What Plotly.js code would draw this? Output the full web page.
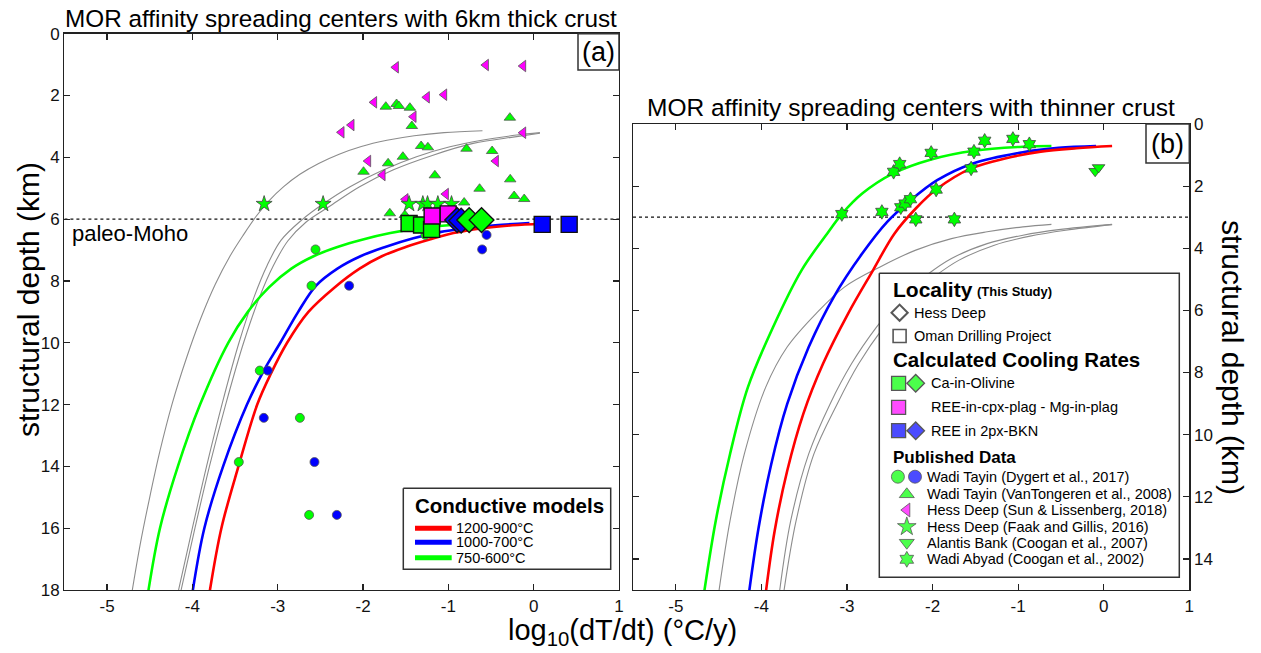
<!DOCTYPE html>
<html><head><meta charset="utf-8">
<script src="https://cdn.plot.ly/plotly-3.0.1.min.js"></script>
<style>html,body{margin:0;padding:0;background:#fff;}#chart{width:1261px;height:653px;}</style>
</head><body><div id="chart"></div>
<script>
// ================= DATA =================
const xTickVals = [-5, -4, -3, -2, -1, 0, 1];
const xTickText = ['-5', '-4', '-3', '-2', '-1', '0', '1'];
const yTickValsA = [0, 2, 4, 6, 8, 10, 12, 14, 16, 18];
const yTickValsB = [0, 2, 4, 6, 8, 10, 12, 14];
const xRange = [-5.5, 1];
const depthMaxA = 18, depthMaxB = 15;
const mohoDepthA = 6, mohoDepthB = 3;

// Panel (a) conductive models (6 km crust)
const redA_x   = [-3.80, -3.66, -3.46, -3.24, -3.08, -2.89, -2.64, -2.33, -2.04, -1.78, -1.50, -1.21, -0.94, -0.62, -0.25, 0.10];
const redA_d   = [18.1, 16.0, 14.0, 12.0, 11.0, 10.0, 9.0, 8.2, 7.6, 7.2, 6.9, 6.65, 6.45, 6.3, 6.2, 6.15];
const blueA_x  = [-4.00, -3.86, -3.64, -3.36, -3.163, -2.97, -2.76, -2.55, -2.30, -2.03, -1.74, -1.41, -1.10, -0.80, -0.45, -0.05];
const blueA_d  = [18.1, 16.0, 14.0, 12.0, 10.9, 10.0, 9.0, 8.15, 7.6, 7.2, 6.9, 6.62, 6.42, 6.3, 6.2, 6.13];
const greenA_x = [-4.52, -4.38, -4.17, -3.91, -3.58, -3.35, -3.10, -2.84, -2.58, -2.30, -1.99, -1.68, -1.35, -1.00, -0.60];
const greenA_d = [18.1, 16.0, 14.0, 12.0, 10.0, 9.0, 8.2, 7.6, 7.2, 6.9, 6.65, 6.45, 6.3, 6.2, 6.12];
// Panel (a) grey reference curves (thinner crust models)
const grey1A_x = [-4.71, -4.61, -4.50, -4.38, -4.24, -4.07, -3.90, -3.73, -3.56, -3.40, -3.25, -3.10, -2.93, -2.74, -2.52, -2.28, -2.02, -1.72, -1.40, -1.05, -0.60];
const grey1A_d = [18.1, 16.5, 15.0, 13.5, 12.0, 10.5, 9.2, 8.1, 7.2, 6.5, 5.9, 5.4, 4.95, 4.55, 4.2, 3.9, 3.65, 3.45, 3.3, 3.2, 3.14];
const grey2A_x = [-4.17, -4.00, -3.834, -3.654, -3.454, -3.274, -3.124, -2.96, -2.72, -2.47, -2.152, -1.764, -1.373, -0.982, -0.592, -0.2, 0.073];
const grey2A_d = [18.1, 16.0, 14.0, 12.0, 10.0, 8.5, 7.5, 6.68, 6.03, 5.51, 4.95, 4.41, 3.98, 3.66, 3.44, 3.28, 3.20];
const grey3A_x = [-4.14, -3.97, -3.80, -3.61, -3.40, -3.21, -3.05, -2.88, -2.67, -2.40, -2.04, -1.65, -1.18, -0.71, -0.20, 0.073];
const grey3A_d = [18.1, 16.0, 14.0, 12.0, 10.0, 8.5, 7.5, 6.7, 6.1, 5.6, 4.95, 4.41, 3.93, 3.55, 3.33, 3.22];

// Panel (b) conductive models (thinner crust)
const redB_x   = [-3.949, -3.845, -3.698, -3.51, -3.28, -2.988, -2.696, -2.446, -2.196, -1.958, -1.549, -1.153, -0.736, -0.319, 0.098];
const redB_d   = [15.1, 13.1, 11.16, 9.33, 7.72, 6.11, 4.71, 3.53, 2.72, 2.11, 1.43, 1.11, 0.89, 0.78, 0.71];
const blueB_x  = [-4.145, -4.032, -3.885, -3.698, -3.447, -3.155, -2.822, -2.53, -2.279, -1.946, -1.528, -0.944, -0.527, -0.089];
const blueB_d  = [15.1, 12.99, 10.95, 9.01, 7.18, 5.57, 4.17, 3.15, 2.51, 1.81, 1.27, 0.91, 0.77, 0.71];
const greenB_x = [-4.67, -4.533, -4.366, -4.157, -3.864, -3.531, -3.25, -3.06, -2.822, -2.459, -2.016, -1.516, -0.944, -0.611];
const greenB_d = [15.1, 12.77, 10.62, 8.47, 6.54, 4.71, 3.6, 2.90, 2.24, 1.59, 1.14, 0.86, 0.73, 0.71];
// Panel (b) grey reference curves (6 km crust models)
const grey1B_x = [-4.499, -4.366, -4.199, -3.949, -3.699, -3.364, -3.03, -2.613, -2.196, -1.779, -1.362, -0.944, -0.611];
const grey1B_d = [15.1, 12.77, 10.62, 8.47, 7.18, 6.11, 5.25, 4.60, 4.06, 3.69, 3.47, 3.31, 3.23];
const grey2B_x = [-3.79, -3.657, -3.447, -3.197, -2.947, -2.655, -2.363, -2.071, -1.779, -1.362, -0.944, -0.527, 0.098];
const grey2B_d = [15.1, 12.77, 10.62, 9.01, 7.72, 6.54, 5.57, 4.87, 4.33, 3.85, 3.58, 3.40, 3.23];
const grey3B_x = [-3.74, -3.594, -3.386, -3.114, -2.863, -2.571, -2.279, -1.987, -1.695, -1.278, -0.861, -0.444, 0.098];
const grey3B_d = [15.1, 12.77, 10.62, 9.01, 7.72, 6.54, 5.57, 4.93, 4.39, 3.90, 3.61, 3.42, 3.24];

// Published data, panel (a)
const dygertGreen_x = [-1.27, -2.557, -2.604, -3.21, -2.74, -3.456, -2.632];
const dygertGreen_d = [6.51, 6.98, 8.155, 10.9, 12.43, 13.86, 15.57];
const dygertBlue_x  = [-0.552, -0.604, -2.163, -3.116, -3.163, -2.569, -2.307];
const dygertBlue_d  = [6.51, 6.98, 8.155, 10.9, 12.43, 13.86, 15.57];
const vanTongeren_x = [-1.733, -1.607, -1.580, -1.451, -1.428, -0.279, -1.319, -1.240, -0.787, -0.487, -1.533, -1.706, -1.994, -1.158, -0.275, -0.634, -0.229, -0.111, -0.815, -1.686, -1.510];
const vanTongeren_d = [2.362, 2.275, 2.340, 2.395, 2.987, 2.718, 3.634, 3.676, 3.722, 3.796, 3.981, 4.194, 4.466, 4.583, 4.712, 5.016, 5.252, 5.350, 5.463, 5.812, 5.867];
const sunLissenberg_x = [-1.615, -0.560, -0.123, -1.870, -1.252, -1.049, -1.408, -2.135, -2.252, -0.123, -1.940, -1.771, -0.443, -1.029, -1.502];
const sunLissenberg_d = [1.087, 1.013, 1.045, 2.220, 2.058, 1.974, 2.686, 2.955, 3.191, 3.204, 4.120, 4.573, 4.120, 5.188, 5.359];
const faakGillis_x = [-3.159, -2.468, -1.46, -1.299, -1.244, -1.123, -0.963];
const faakGillis_d = [5.51, 5.51, 5.51, 5.51, 5.51, 5.51, 5.51];

// This study, panel (a)
const omanCaOl_x  = [-1.46, -1.314, -1.197];
const omanCaOl_d  = [6.14, 6.19, 6.33];
const omanREEmg_x = [-1.19, -1.002];
const omanREEmg_d = [5.90, 5.83];
const omanREE2px_x = [0.10, 0.416];
const omanREE2px_d = [6.17, 6.17];
const hessREE2px_x = [-0.897, -0.85];
const hessREE2px_d = [6.03, 6.05];
const hessCaOl_x  = [-0.756, -0.611];
const hessCaOl_d  = [6.03, 6.03];

// Published data, panel (b)
const wadiAbyad_x = [-3.06, -2.592, -2.455, -2.384, -2.371, -2.321, -2.258, -2.196, -2.016, -1.958, -1.745, -1.549, -1.516, -1.391, -1.061, -0.869];
const wadiAbyad_d = [2.90, 2.83, 1.54, 1.29, 2.68, 2.56, 2.42, 3.07, 0.93, 2.11, 3.07, 1.43, 0.89, 0.54, 0.48, 0.65];
const atlantis_x = [-0.10, -0.06];
const atlantis_d = [1.52, 1.40];

// ================= STYLE / LAYOUT =================
const W = 1261, H = 653;
const FONT = 'Arial, "Liberation Sans", sans-serif';
const GREEN = '#00ff00', BLUE = '#0000ff', RED = '#ff0000', MAGENTA = '#ff00ff', GREY = '#8c8c8c';
const panelA = {l: 64.4, r: 619, t: 33.7, b: 590};
const panelB = {l: 633, r: 1189.3, t: 124, b: 590};

const traces = [];
function addLine(x, y, xa, ya, color, width) {
  traces.push({type: 'scatter', mode: 'lines', x: x, y: y, xaxis: xa, yaxis: ya,
    line: {color: color, width: width, shape: 'spline', smoothing: 1},
    hoverinfo: 'skip', showlegend: false});
}
function addPts(x, y, xa, ya, symbol, color, size, lineColor, lineWidth) {
  traces.push({type: 'scatter', mode: 'markers', x: x, y: y, xaxis: xa, yaxis: ya, cliponaxis: false,
    marker: {symbol: symbol, color: color, size: size, line: {color: lineColor, width: lineWidth}},
    hoverinfo: 'skip', showlegend: false});
}

// panel (a)
addLine(grey1A_x, grey1A_d, 'x', 'y', GREY, 1.1);
addLine(grey2A_x, grey2A_d, 'x', 'y', GREY, 1.1);
addLine(grey3A_x, grey3A_d, 'x', 'y', GREY, 1.1);
addLine(greenA_x, greenA_d, 'x', 'y', GREEN, 2.6);
addLine(blueA_x, blueA_d, 'x', 'y', BLUE, 2.6);
addLine(redA_x, redA_d, 'x', 'y', RED, 2.6);
addPts(dygertGreen_x, dygertGreen_d, 'x', 'y', 'circle', GREEN, 9, '#555', 0.8);
addPts(dygertBlue_x, dygertBlue_d, 'x', 'y', 'circle', BLUE, 9, '#555', 0.8);
addPts(vanTongeren_x, vanTongeren_d, 'x', 'y', 'triangle-up', GREEN, 10, '#555', 0.8);
addPts(sunLissenberg_x, sunLissenberg_d, 'x', 'y', 'triangle-left', MAGENTA, 10, '#555', 0.8);
addPts(faakGillis_x, faakGillis_d, 'x', 'y', 'star', GREEN, 12, '#444', 0.8);
addPts(omanCaOl_x, omanCaOl_d, 'x', 'y', 'square', GREEN, 16, '#111', 1.4);
addPts(omanREEmg_x, omanREEmg_d, 'x', 'y', 'square', MAGENTA, 16, '#111', 1.4);
addPts(omanREE2px_x, omanREE2px_d, 'x', 'y', 'square', BLUE, 16, '#111', 1.4);
addPts(hessREE2px_x, hessREE2px_d, 'x', 'y', 'diamond', BLUE, 19, '#111', 1.4);
addPts(hessCaOl_x, hessCaOl_d, 'x', 'y', 'diamond', GREEN, 19, '#111', 1.4);

// panel (b)
addLine(grey1B_x, grey1B_d, 'x2', 'y2', GREY, 1.1);
addLine(grey2B_x, grey2B_d, 'x2', 'y2', GREY, 1.1);
addLine(grey3B_x, grey3B_d, 'x2', 'y2', GREY, 1.1);
addLine(greenB_x, greenB_d, 'x2', 'y2', GREEN, 2.6);
addLine(blueB_x, blueB_d, 'x2', 'y2', BLUE, 2.6);
addLine(redB_x, redB_d, 'x2', 'y2', RED, 2.6);
addPts(wadiAbyad_x, wadiAbyad_d, 'x2', 'y2', 'hexagram', GREEN, 11, '#444', 0.8);
addPts(atlantis_x, atlantis_d, 'x2', 'y2', 'triangle-down', GREEN, 11, '#444', 0.8);

// ---- legend frames & glyphs on a full-figure pixel overlay (x3/y3) ----
function box(b) {
  traces.push({type: 'scatter', mode: 'lines', xaxis: 'x3', yaxis: 'y3',
    x: [b[0], b[2], b[2], b[0], b[0]], y: [b[1], b[1], b[3], b[3], b[1]],
    fill: 'toself', fillcolor: '#ffffff', line: {color: '#333', width: 1.5},
    hoverinfo: 'skip', showlegend: false});
}
box([403.3, 488.3, 610.7, 569.3]);     // conductive models legend
box([879.3, 273.3, 1179.3, 577.3]);    // main legend
box([578, 33.7, 619, 70]);             // (a) label
box([1146, 124, 1189.3, 163]);         // (b) label

const legendLines = [
  {y: 528.3, color: RED}, {y: 542.3, color: BLUE}, {y: 557.7, color: GREEN}
];
legendLines.forEach(function (l) {
  traces.push({type: 'scatter', mode: 'lines', xaxis: 'x3', yaxis: 'y3',
    x: [415, 451.7], y: [l.y, l.y], line: {color: l.color, width: 5},
    hoverinfo: 'skip', showlegend: false});
});
const glyphs = [
  {x: 899.6, y: 312.7, s: 'diamond', c: '#ffffff', z: 12.5, w: 2},
  {x: 899.6, y: 336.0, s: 'square', c: '#ffffff', z: 13, w: 1.6},
  {x: 898.6, y: 383.3, s: 'square', c: GREEN, z: 14, w: 1.3},
  {x: 915.7, y: 383.3, s: 'diamond', c: GREEN, z: 13.5, w: 1.3},
  {x: 898.6, y: 407.3, s: 'square', c: MAGENTA, z: 14, w: 1.3},
  {x: 898.6, y: 430.7, s: 'square', c: BLUE, z: 14, w: 1.3},
  {x: 915.7, y: 430.7, s: 'diamond', c: BLUE, z: 13.5, w: 1.3},
  {x: 897.9, y: 476.7, s: 'circle', c: GREEN, z: 13, w: 0.8},
  {x: 915.0, y: 476.7, s: 'circle', c: BLUE, z: 13, w: 0.8},
  {x: 906.8, y: 494.3, s: 'triangle-up', c: GREEN, z: 13, w: 0.8},
  {x: 906.8, y: 510.0, s: 'triangle-left', c: MAGENTA, z: 12, w: 0.8},
  {x: 906.8, y: 526.7, s: 'star', c: GREEN, z: 14, w: 0.8},
  {x: 906.8, y: 542.7, s: 'triangle-down', c: GREEN, z: 13, w: 0.8},
  {x: 906.8, y: 559.3, s: 'hexagram', c: GREEN, z: 12, w: 0.8}
];
traces.push({type: 'scatter', mode: 'markers', xaxis: 'x3', yaxis: 'y3', cliponaxis: false,
  x: glyphs.map(g => g.x), y: glyphs.map(g => g.y),
  marker: {symbol: glyphs.map(g => g.s), color: glyphs.map(g => g.c), size: glyphs.map(g => g.z),
    line: {color: '#111', width: glyphs.map(g => g.w)}},
  hoverinfo: 'skip', showlegend: false});

// ---- annotations (pixel positions converted to paper) ----
function ann(text, px, py, size, opts) {
  opts = opts || {};
  return {text: text, xref: 'paper', yref: 'paper', x: px / W, y: 1 - py / H,
    xanchor: opts.xanchor || 'left', yanchor: 'middle', showarrow: false,
    textangle: opts.angle || 0, borderpad: 0,
    font: {family: FONT, size: size, color: '#000'}};
}
const annotations = [
  ann('MOR affinity spreading centers with 6km thick crust', 64, 18, 24.3),
  ann('MOR affinity spreading centers with thinner crust', 646, 108, 24.5),
  ann('(a)', 598.5, 52, 27, {xanchor: 'center'}),
  ann('(b)', 1167.6, 143.5, 27, {xanchor: 'center'}),
  ann('paleo-Moho', 71, 233, 22),
  ann('structural depth (km)', 28, 300, 30, {xanchor: 'center', angle: -90}),
  ann('structural depth (km)', 1232, 357, 30, {xanchor: 'center', angle: 90}),
  ann('log<sub>10</sub>(dT/dt) (°C/y)', 622, 632, 29, {xanchor: 'center'}),
  ann('<b>Conductive models</b>', 414, 505, 20.5),
  ann('1200-900°C', 455, 528.3, 14.5),
  ann('1000-700°C', 455, 542.3, 14.5),
  ann('750-600°C', 455, 557.7, 14.5),
  ann('<b>Locality</b>', 891.5, 289.3, 21),
  ann('<b>(This Study)</b>', 975.5, 291.7, 13),
  ann('Hess Deep', 913, 312.5, 14.5),
  ann('Oman Drilling Project', 913, 336, 14.5),
  ann('<b>Calculated Cooling Rates</b>', 891.5, 359.3, 20.5),
  ann('Ca-in-Olivine', 930, 383.3, 14.5),
  ann('REE-in-cpx-plag - Mg-in-plag', 930, 407.3, 14.5),
  ann('REE in 2px-BKN', 930, 430.7, 14.5),
  ann('<b>Published Data</b>', 891.5, 457.7, 17),
  ann('Wadi Tayin (Dygert et al., 2017)', 925.5, 476.7, 14.5),
  ann('Wadi Tayin (VanTongeren et al., 2008)', 925.5, 494.3, 14.5),
  ann('Hess Deep (Sun &amp; Lissenberg, 2018)', 925.5, 510, 14.5),
  ann('Hess Deep (Faak and Gillis, 2016)', 925.5, 526.7, 14.5),
  ann('Alantis Bank (Coogan et al., 2007)', 925.5, 542.7, 14.5),
  ann('Wadi Abyad (Coogan et al., 2002)', 925.5, 559.3, 14.5)
];

function axisStyle(extra) {
  return Object.assign({
    showline: true, linecolor: '#222', linewidth: 1.3, mirror: 'ticks',
    ticks: 'inside', ticklen: 6, tickwidth: 1.2, tickcolor: '#222',
    showgrid: false, zeroline: false, fixedrange: true,
    tickfont: {family: FONT, size: 17, color: '#111'}
  }, extra);
}

const layout = {
  width: W, height: H, autosize: false,
  margin: {l: 0, r: 0, t: 0, b: 0, pad: 0},
  paper_bgcolor: '#ffffff', plot_bgcolor: 'rgba(0,0,0,0)',
  showlegend: false, font: {family: FONT, color: '#000'},
  xaxis: axisStyle({domain: [panelA.l / W, panelA.r / W], range: xRange, anchor: 'y',
    tickmode: 'array', tickvals: xTickVals, ticktext: xTickText}),
  yaxis: axisStyle({domain: [1 - panelA.b / H, 1 - panelA.t / H], range: [depthMaxA, 0], anchor: 'x',
    tickmode: 'array', tickvals: yTickValsA, ticktext: yTickValsA.map(String)}),
  xaxis2: axisStyle({domain: [panelB.l / W, panelB.r / W], range: xRange, anchor: 'y2',
    tickmode: 'array', tickvals: xTickVals, ticktext: xTickText}),
  yaxis2: axisStyle({domain: [1 - panelB.b / H, 1 - panelB.t / H], range: [depthMaxB, 0], anchor: 'x2', side: 'right',
    tickmode: 'array', tickvals: yTickValsB, ticktext: yTickValsB.map(String)}),
  xaxis3: {domain: [0, 1], range: [0, W], visible: false, fixedrange: true, anchor: 'y3'},
  yaxis3: {domain: [0, 1], range: [H, 0], visible: false, fixedrange: true, anchor: 'x3'},
  shapes: [
    {type: 'line', xref: 'x', yref: 'y', x0: xRange[0], x1: xRange[1], y0: mohoDepthA, y1: mohoDepthA,
     line: {color: '#111', width: 1.2, dash: 'dot'}, layer: 'below'},
    {type: 'line', xref: 'x2', yref: 'y2', x0: xRange[0], x1: xRange[1], y0: mohoDepthB, y1: mohoDepthB,
     line: {color: '#111', width: 1.2, dash: 'dot'}, layer: 'below'}
  ],
  annotations: annotations
};

Plotly.newPlot('chart', traces, layout, {displayModeBar: false, staticPlot: true});
</script></body></html>
